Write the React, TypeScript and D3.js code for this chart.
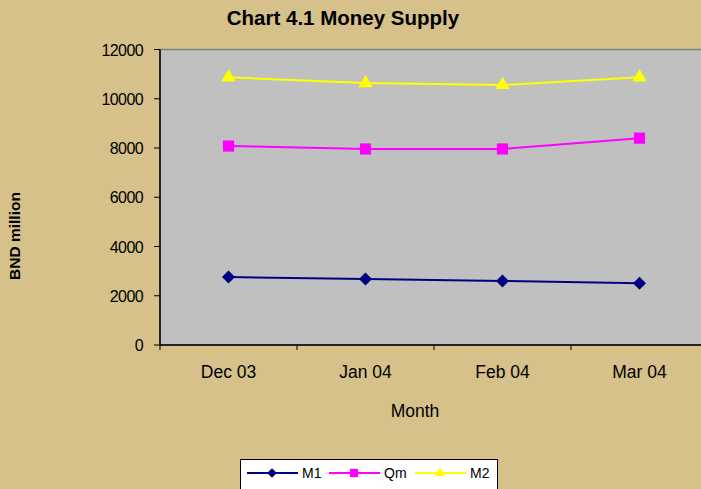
import React from "react";
import * as d3 from "d3";

const categories = ["Dec 03", "Jan 04", "Feb 04", "Mar 04"];
const m1 = [2760, 2680, 2600, 2510];
const qm = [8080, 7960, 7960, 8400];
const m2 = [10870, 10640, 10560, 10870];
const yTicks = [0, 2000, 4000, 6000, 8000, 10000, 12000];

const W = 701, H = 489;
const left = 160, top = 49.5, bottom = 345;
const step = 137;

export default function App() {
  const x = d3.scaleBand<string>().domain(categories).range([left, left + step * categories.length]);
  const y = d3.scaleLinear().domain([0, 12000]).range([bottom, top]);
  const cx = (c: string) => (x(c) as number) + x.bandwidth() / 2;
  const line = d3.line<number>().x((_, i) => cx(categories[i])).y((v) => y(v));
  const series = [
    { name: "M1", data: m1, color: "#000080", shape: d3.symbolSquare, size: 85, rot: 45 },
    { name: "Qm", data: qm, color: "#ff00ff", shape: d3.symbolSquare, size: 125, rot: 0 },
    { name: "M2", data: m2, color: "#ffff00", shape: d3.symbolTriangle, size: 90, rot: 0 },
  ];
  const font = "Arial, 'Liberation Sans', sans-serif";
  const legendX = [247, 329, 415];
  return (
    <svg width={W} height={H} style={{ position: "absolute", left: 0, top: 0, fontFamily: font }}>
      <rect x={0} y={0} width={W} height={H} fill="#d5c189" />
      <rect x={left} y={top} width={step * 4} height={bottom - top} fill="#c0c0c0" stroke="#808080" strokeWidth={1.5} />
      <text x={343} y={25} textAnchor="middle" fontSize={20.5} fontWeight="bold">Chart 4.1 Money Supply</text>
      {/* y axis */}
      <line x1={left} x2={left} y1={top} y2={bottom} stroke="#000" strokeWidth={1.5} />
      {yTicks.map((t) => (
        <g key={t}>
          <line x1={left - 6} x2={left} y1={y(t)} y2={y(t)} stroke="#000" />
          <text x={143} y={y(t) + 6} textAnchor="end" fontSize={16} letterSpacing={-0.6}>{t}</text>
        </g>
      ))}
      {/* x axis */}
      <line x1={left} x2={W} y1={bottom} y2={bottom} stroke="#000" strokeWidth={1.5} />
      {d3.range(categories.length + 1).map((i) => (
        <line key={i} x1={left + i * step} x2={left + i * step} y1={bottom} y2={bottom + 5} stroke="#000" />
      ))}
      {categories.map((c) => (
        <text key={c} x={cx(c)} y={378} textAnchor="middle" fontSize={17.5}>{c}</text>
      ))}
      <text x={415} y={417} textAnchor="middle" fontSize={17.5}>Month</text>
      <text transform="translate(20,236) rotate(-90)" textAnchor="middle" fontSize={15.5} fontWeight="bold">BND million</text>
      {series.map((s) => (
        <g key={s.name}>
          <path d={line(s.data) as string} fill="none" stroke={s.color} strokeWidth={2} />
          {s.data.map((v, i) => (
            <path key={i} d={d3.symbol().type(s.shape).size(s.size)() as string}
              transform={`translate(${cx(categories[i])},${y(v)}) rotate(${s.rot})`} fill={s.color} />
          ))}
        </g>
      ))}
      {/* legend */}
      <rect x={240.5} y={459.5} width={257} height={40} fill="#fff" stroke="#000" />
      {series.map((s, i) => (
        <g key={s.name}>
          <line x1={legendX[i]} x2={legendX[i] + 51} y1={473} y2={473} stroke={s.color} strokeWidth={2} />
          <path d={d3.symbol().type(s.shape).size(s.size * 0.55)() as string}
            transform={`translate(${legendX[i] + 25},473) rotate(${s.rot})`} fill={s.color} />
          <text x={legendX[i] + 55} y={478} fontSize={14}>{s.name}</text>
        </g>
      ))}
    </svg>
  );
}
